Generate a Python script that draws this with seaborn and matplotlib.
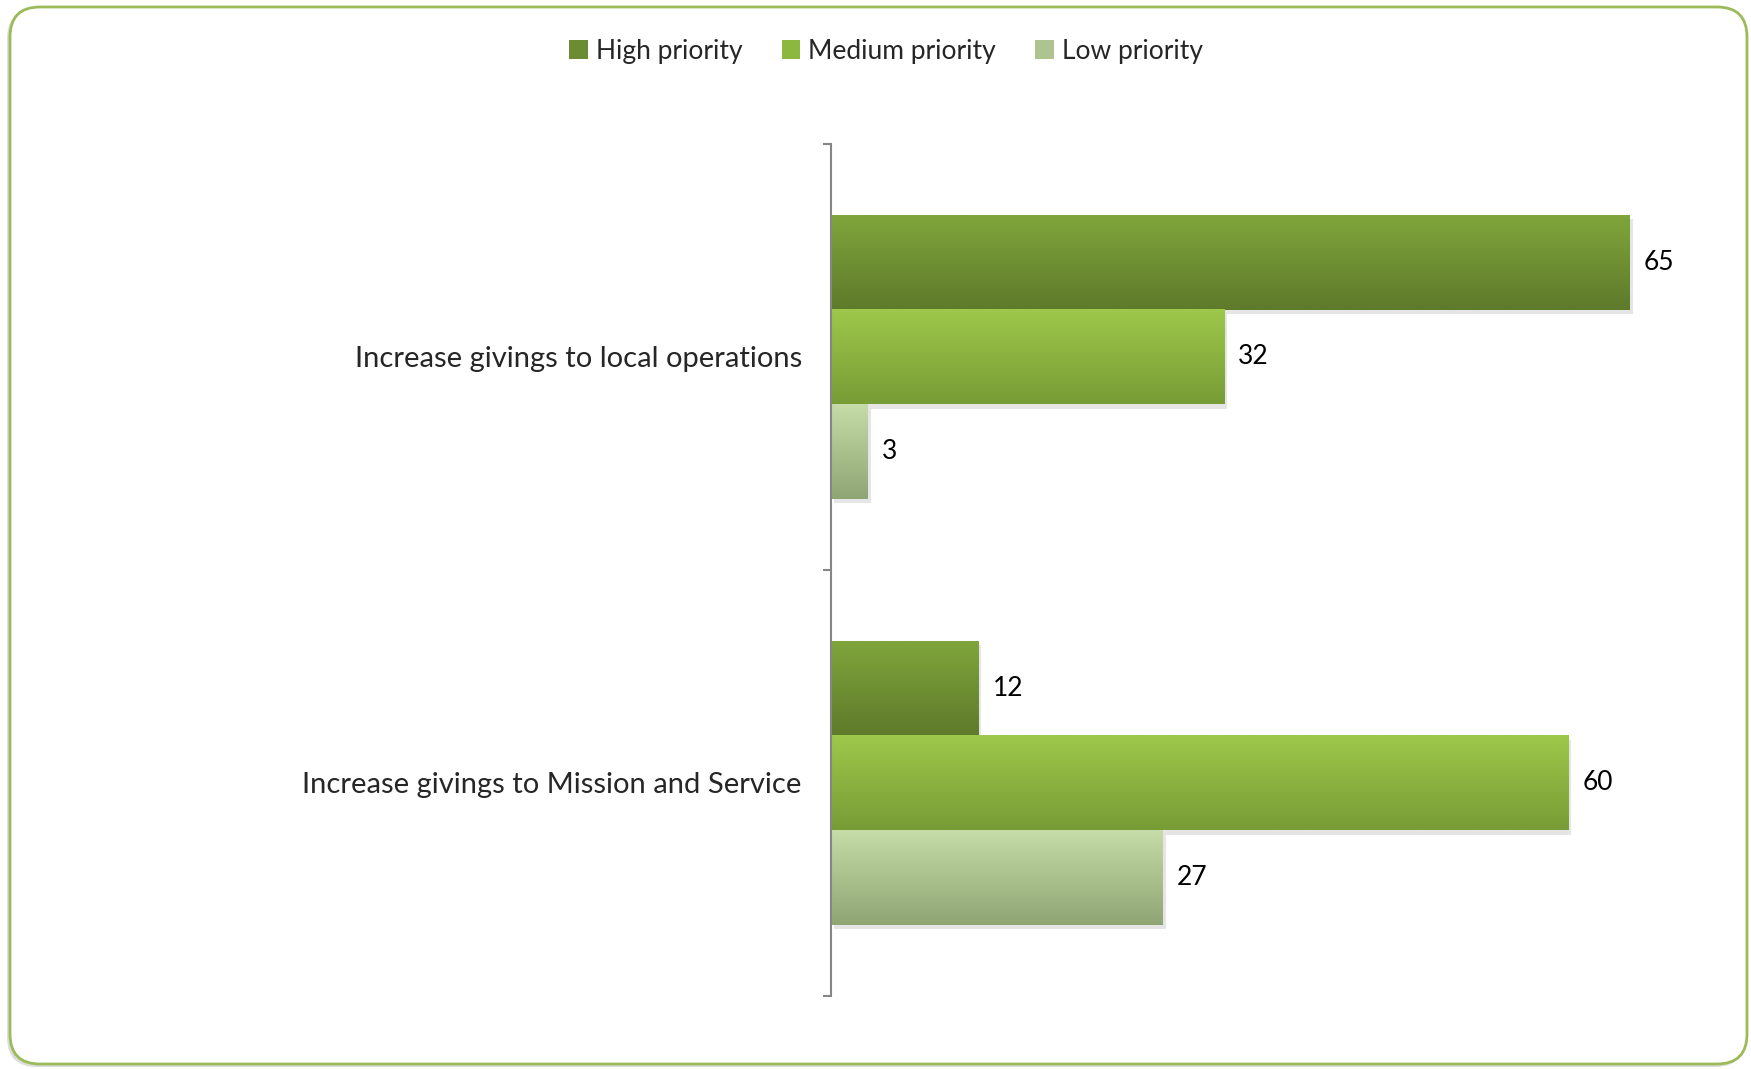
import numpy as np
import pandas as pd
import matplotlib
matplotlib.use("Agg")
import matplotlib.pyplot as plt
import matplotlib.patheffects as pe
from matplotlib.patches import Patch, FancyBboxPatch
from matplotlib.colors import to_rgb
import seaborn as sns

# data
categories = ['Increase givings to local operations', 'Increase givings to Mission and Service']
priorities = ['High priority', 'Medium priority', 'Low priority']
high = [65, 12]
medium = [32, 60]
low = [3, 27]

# gradient colours per series (top, bottom)
grad_cols = {
    'High priority': ('#80A53B', '#5E7A2B'),
    'Medium priority': ('#9DC84A', '#789C36'),
    'Low priority': ('#C5DBA8', '#8FA674'),
}

df = pd.DataFrame({
    'Category': categories * 3,
    'Priority': [p for p in priorities for _ in categories],
    'Value': high + medium + low,
})

sns.set_style("white")
plt.rcParams['font.family'] = ['Lato', 'DejaVu Sans']
FS_CAT = 21
FS_VAL = 19
FS_LEG = 19

fig = plt.figure(figsize=(17.51, 10.69), dpi=100)
ax = fig.add_axes([0.4746, 0.0683, 0.4914, 0.797])

sns.barplot(data=df, y='Category', x='Value', hue='Priority', orient='h',
            hue_order=priorities, order=categories, width=0.667, gap=0,
            palette=[grad_cols[p][0] for p in priorities], legend=False,
            saturation=1, ax=ax)

# swap flat fills for vertical gradients
for cont, p in zip(ax.containers, priorities):
    top, bot = (np.array(to_rgb(c)) for c in grad_cols[p])
    t = np.linspace(0, 1, 64)[:, None]
    img = (top * (1 - t) + bot * t)[:, None, :]
    for bar in cont:
        x0, y0 = bar.get_x(), bar.get_y()
        w, h = bar.get_width(), bar.get_height()
        bar.set_facecolor('none')
        bar.set_edgecolor('none')
        bar.set_zorder(1)
        bar.set_path_effects([pe.SimplePatchShadow(offset=(2, -3), shadow_rgbFace='#aaaaaa', alpha=0.3)])
        ax.imshow(img, extent=(x0, x0 + w, y0 + h, y0), aspect='auto', zorder=2, interpolation='bilinear')
    ax.bar_label(cont, fmt='%d', padding=10, fontsize=FS_VAL, color='black')

ax.set_xlim(0, 70)
ax.set_ylim(1.5, -0.5)

for s in ['top', 'right', 'bottom']:
    ax.spines[s].set_visible(False)
ax.spines['left'].set_color('#868686')
ax.spines['left'].set_linewidth(1.5)
ax.set_xticks([])
ax.set_xlabel('')
ax.set_ylabel('')
ax.set_yticks([0, 1])
ax.set_yticklabels(categories, fontsize=FS_CAT)
ax.tick_params(axis='y', which='major', length=0, pad=21)
ax.set_yticks([-0.5, 0.5, 1.5], minor=True)
ax.tick_params(axis='y', which='minor', length=6, width=1.5, color='#868686', left=True)

# legend
handles = [Patch(facecolor=c, edgecolor='none') for c in ['#6B8C32', '#8DB840', '#ADC490']]
fig.legend(handles, priorities, loc='upper center', bbox_to_anchor=(0.506, 0.986), ncol=3,
           frameon=False, fontsize=FS_LEG, handlelength=0.7, handleheight=0.7,
           handletextpad=0.3, columnspacing=1.5)

# rounded green frame with soft shadow
shadow = FancyBboxPatch((0.07, 0.02), 17.38, 10.58, boxstyle='round,pad=0,rounding_size=0.3',
                        transform=fig.dpi_scale_trans, facecolor='#bbbbbb', edgecolor='none',
                        alpha=0.5, zorder=-2)
frame = FancyBboxPatch((0.10, 0.05), 17.37, 10.57, boxstyle='round,pad=0,rounding_size=0.3',
                       transform=fig.dpi_scale_trans, facecolor='white', edgecolor='#9BBB59',
                       linewidth=2, zorder=-1)
fig.patches.extend([shadow, frame])

fig.savefig('out.png', dpi=100)
